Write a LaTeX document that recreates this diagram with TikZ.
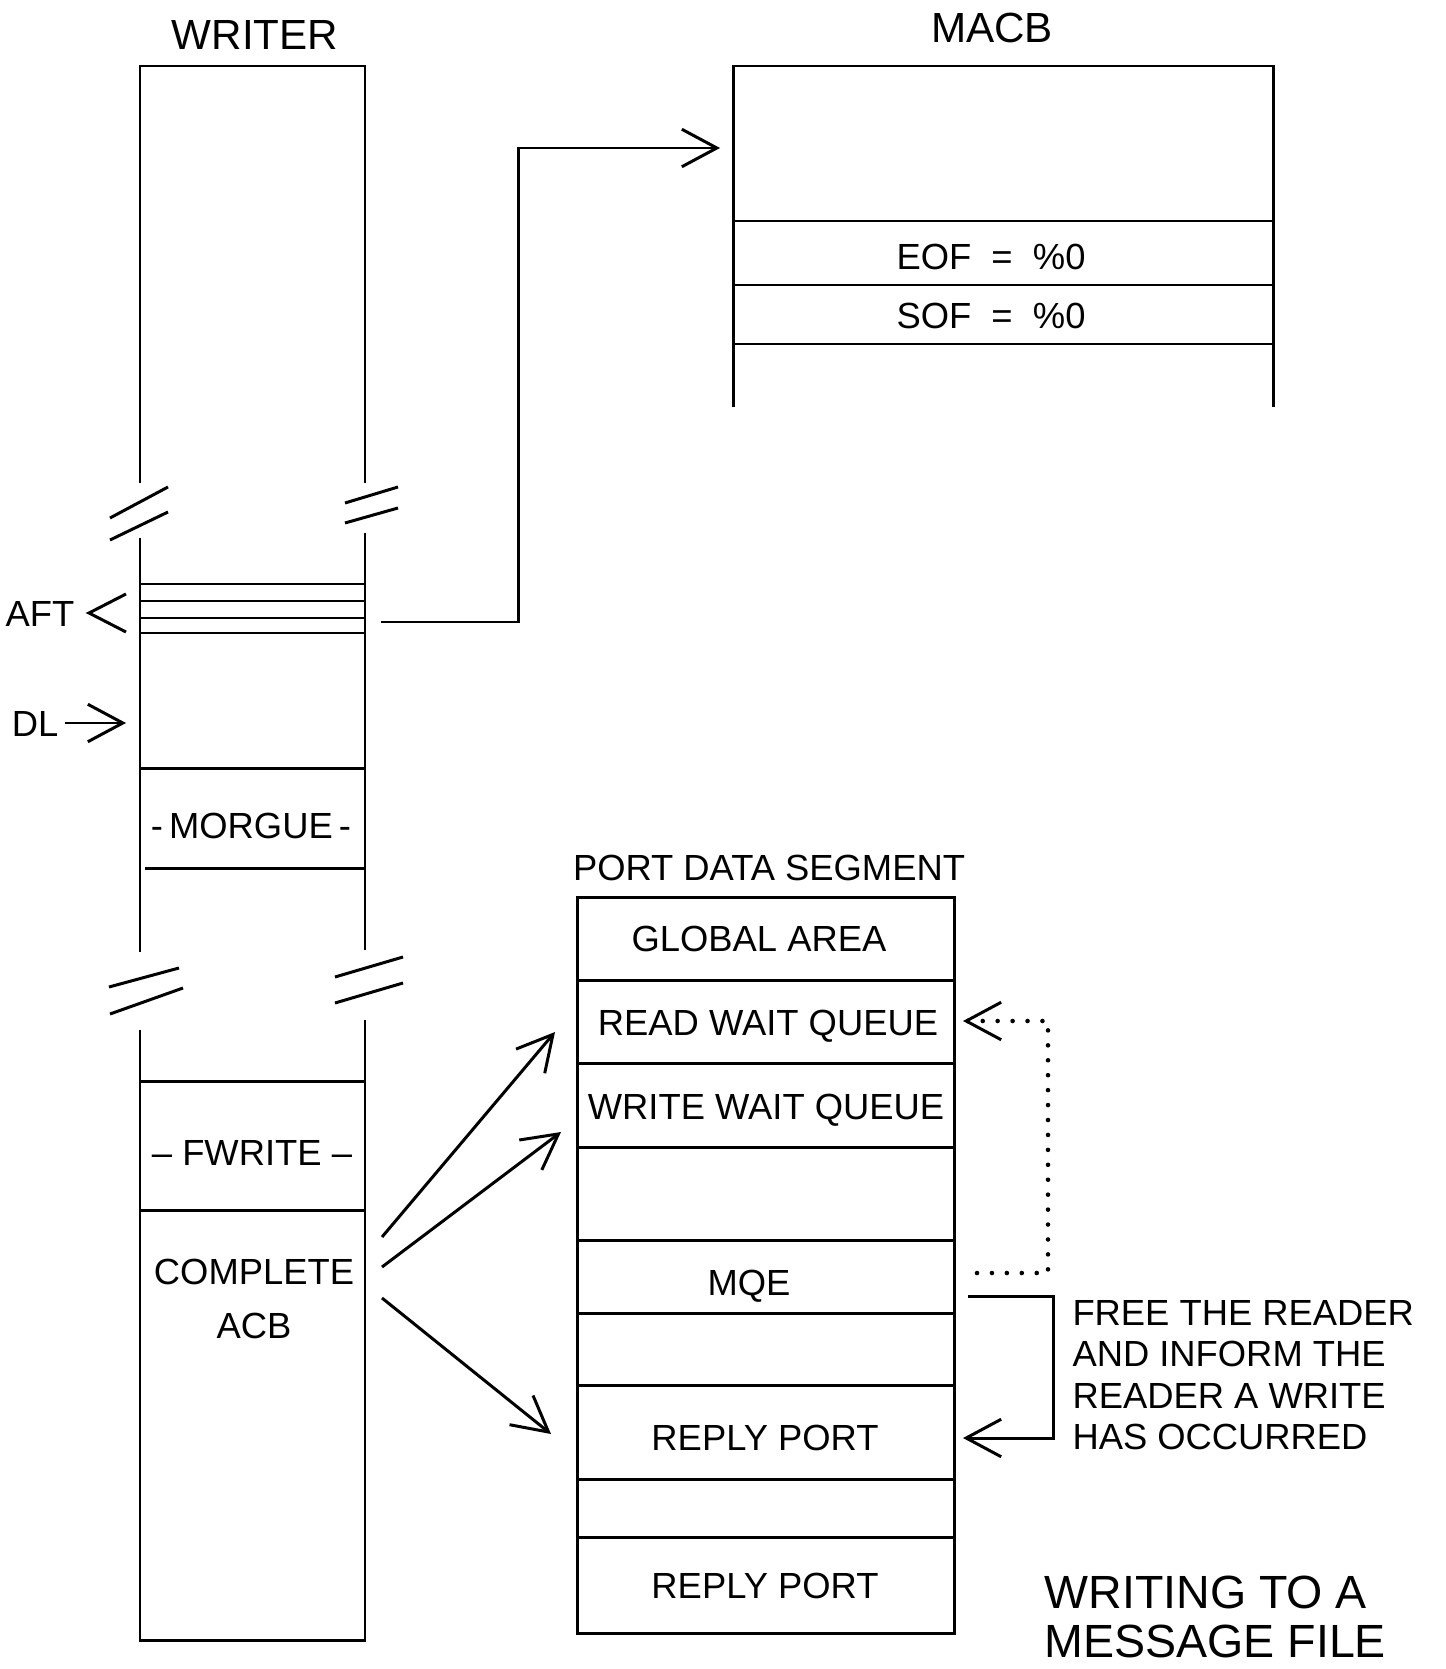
\documentclass[tikz,border=0pt]{standalone}
\usepackage{fontspec}
\usepackage{tikz}
\usetikzlibrary{arrows.meta,positioning}
\setmainfont{Liberation Sans}

\begin{document}
\begin{tikzpicture}[x=0.02cm, y=-0.02cm, line width=1.7pt,
    lbl/.style={inner sep=0pt, text height=0.52cm, text depth=0pt, font=\fontsize{20.7}{24}\selectfont},
    ttl/.style={inner sep=0pt, text height=0.6cm, text depth=0pt, font=\fontsize{24}{28}\selectfont},
    barb/.style={-{Straight Barb[length=0.7cm, width=0.75cm, line width=1.7pt]}},
    dots/.style={line width=2.6pt, line cap=round, dash pattern=on 0pt off 8.5pt}]
    \useasboundingbox (0,0) rectangle (1445,1669);

    \node[ttl] (writerT) at (255,35) {WRITER};
    \draw (140,483) -- (140,66) -- (365,66) -- (365,483);
    \draw (140,538) -- (140,952);
    \draw (365,533) -- (365,950);
    \draw (140,1030) -- (140,1640) -- (365,1640) -- (365,1020);
    \draw (110,518) -- (168,487) (110,540) -- (168,512);
    \draw (345,503) -- (398,487) (345,523) -- (398,508);
    \draw (109,987) -- (179,968) (110,1014) -- (183,988);
    \draw (335,977) -- (403,957) (335,1003) -- (403,983);
    \foreach \y in {584,601,618,633,768,1081,1210}
        \draw (140,\y) -- (365,\y);
    \draw (145,868) -- (365,868);
    \node[lbl] (morgue) at (251,825) {-\,MORGUE\,-};
    \node[lbl] (fwrite) at (252,1152) {-- FWRITE --};
    \node[inner sep=0pt, align=center, anchor=north, font=\fontsize{20.7}{30.7}\selectfont] (acb) at (254,1258) {COMPLETE\\ACB};

    \node[lbl] (aftL) at (40,613) {AFT};
    \draw (126,594) -- (89,613) -- (126,632);
    \node[lbl] (dlL) at (35,723) {DL};
    \coordinate (dlTip) at (126,723);
    \draw[barb] ([xshift=3pt]dlL.east) -- (dlTip);

    \node[ttl] (macbT) at (992,28) {MACB};
    \draw (733,407) -- (733,66) -- (1273,66) -- (1273,407);
    \foreach \y in {221,285,344}
        \draw (733,\y) -- (1273,\y);
    \node[lbl] (eof) at (991,257) {EOF\ \ =\ \ \%0};
    \node[lbl] (sof) at (991,316) {SOF\ \ =\ \ \%0};
    \coordinate (aftOut) at (381,622);
    \coordinate (macbIn) at (720,148);
    \draw[barb] (aftOut) -- (518,622) |- (macbIn);

    \node[lbl] (portT) at (769,867) {PORT DATA SEGMENT};
    \draw (577,897) rectangle (954,1633);
    \foreach \y in {980,1063,1147,1240,1313,1385,1479,1537}
        \draw (577,\y) -- (954,\y);
    \node[lbl] (glob) at (759,938) {GLOBAL AREA};
    \node[lbl] (rwq) at (768,1022) {READ WAIT QUEUE};
    \node[lbl] (wwq) at (766,1106) {WRITE WAIT QUEUE};
    \node[lbl] (mqe) at (749,1282) {MQE};
    \node[lbl] (rp1) at (765,1437) {REPLY PORT};
    \node[lbl] (rp2) at (765,1585) {REPLY PORT};

    \coordinate (acbA) at (382,1237);
    \coordinate (acbB) at (382,1267);
    \coordinate (acbC) at (382,1298);
    \coordinate (rwqIn) at (555,1032);
    \coordinate (wwqIn) at (561,1132);
    \coordinate (rpIn) at (551,1434);
    \draw[barb] (acbA) -- (rwqIn);
    \draw[barb] (acbB) -- (wwqIn);
    \draw[barb] (acbC) -- (rpIn);

    \coordinate (mqeDot) at (977,1273);
    \coordinate (mqeOut) at (968,1296);
    \coordinate (rwqBack) at (963,1021);
    \coordinate (rpBack) at (963,1438);
    \draw[dots, barb] (mqeDot) -- (1048,1273) -- (1048,1021) -- (rwqBack);
    \draw[barb] (mqeOut) -- (1053,1296) -- (1053,1438) -- (rpBack);
    \node[anchor=north west, inner sep=0pt, align=left, font=\fontsize{20.7}{23.6}\selectfont] (note) at (1071,1299) {FREE THE READER\\AND INFORM THE\\READER A WRITE\\HAS OCCURRED};

    \node[anchor=north west, inner sep=0pt, align=left, font=\fontsize{26.5}{28.2}\selectfont] (title) at (1043,1574) {WRITING TO A\\MESSAGE FILE};
\end{tikzpicture}
\end{document}
